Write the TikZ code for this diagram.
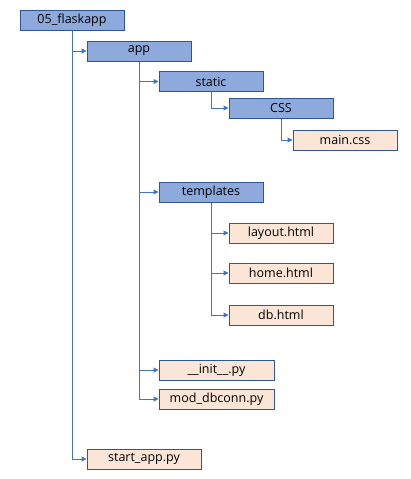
\documentclass[tikz,border=0pt]{standalone}
\usepackage{fontspec}
\setmainfont{Open Sans}
\usetikzlibrary{arrows.meta, positioning}
\definecolor{dirblue}{HTML}{8EA9DB}
\definecolor{filepeach}{HTML}{FBE5D6}
\definecolor{edgeblue}{HTML}{2F5597}
\definecolor{lineblue}{HTML}{4472C4}

\begin{document}
\begin{tikzpicture}[
        x=1pt,
        y=-1pt,
        folder/.style={draw=edgeblue, line width=1pt, fill=dirblue,
                       minimum width=104pt, minimum height=20pt, inner sep=0pt, font=\fontsize{12.5}{14}\selectfont},
        pyfile/.style={folder, fill=filepeach},
        link/.style={-{Triangle[length=5pt, width=5pt]}, line width=1pt, draw=lineblue}
    ]
        \useasboundingbox (0,0) rectangle (411,479);

        % === DOSSIERS ===
        \node[folder] (root) at (72,20) {05\_flaskapp};
        \node[folder] (app) at (139,51) {app};
        \node[folder] (static) at (211,81.5) {static};
        \node[folder] (css) at (281,108) {CSS};
        \node[folder] (tmpl) at (211,192) {templates};

        % === FICHIERS ===
        \node[pyfile] (maincss) at (345,140) {main.css};
        \node[pyfile] (layout) at (281,233) {layout.html};
        \node[pyfile] (home) at (281,273) {home.html};
        \node[pyfile] (db) at (281,315) {db.html};
        \node[pyfile, minimum width=115pt] (init) at (216.5,370) {\_\_init\_\_.py};
        \node[pyfile, minimum width=115pt] (dbconn) at (216.5,399) {mod\_dbconn.py};
        \node[pyfile, minimum width=114pt] (startapp) at (144,459) {start\_app.py};

        % === LIAISONS ===
        \draw[link] (root.south) |- (app.west);
        \draw[link] (root.south) |- (startapp.west);
        \draw[link] (app.south) |- (static.west);
        \draw[link] (app.south) |- (tmpl.west);
        \draw[link] (app.south) |- (init.west);
        \draw[link] (app.south) |- (dbconn.west);
        \draw[link] (static.south) |- (css.west);
        \draw[link] (css.south) |- (maincss.west);
        \draw[link] (tmpl.south) |- (layout.west);
        \draw[link] (tmpl.south) |- (home.west);
        \draw[link] (tmpl.south) |- (db.west);
    \end{tikzpicture}
\end{document}
